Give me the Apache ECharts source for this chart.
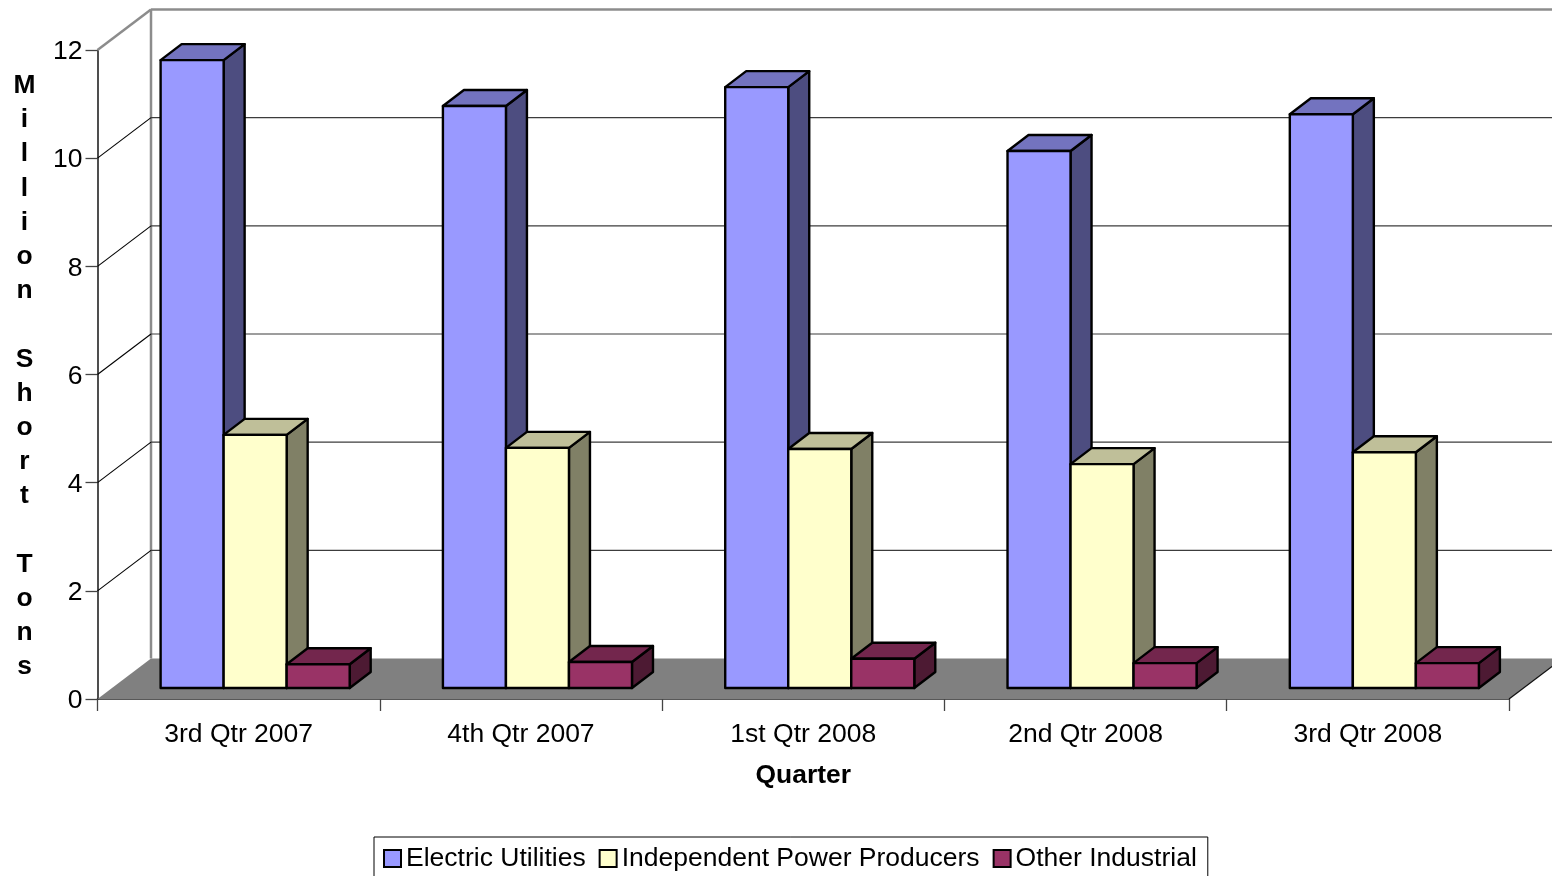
<!DOCTYPE html>
<html>
<head>
<meta charset="utf-8">
<style>html,body{margin:0;padding:0;background:#fff}#c{width:1552px;height:876px}</style>
<script src="https://cdn.jsdelivr.net/npm/echarts@6/dist/echarts.min.js"></script>
</head>
<body>
<div id="c"></div>
<script>
const categories = ['3rd Qtr 2007','4th Qtr 2007','1st Qtr 2008','2nd Qtr 2008','3rd Qtr 2008'];
const electricUtilities = [11.61,10.76,11.11,9.93,10.61];
const independentPower = [4.68,4.44,4.42,4.14,4.36];
const otherIndustrial = [0.44,0.48,0.54,0.46,0.46];
const yTicks = [0,2,4,6,8,10,12];
const yTitle = 'Million Short Tons';

const FONT = '"Liberation Sans", Arial, sans-serif';
const WALL_DX = 53.5, WALL_DY = 40.5;    // depth of the box
const LIFT_DX = 16.5, LIFT_DY = 11;      // bars stand this far into the floor
const SIDE_DX = 21, SIDE_DY = 16;        // depth of one bar
const BAR_RATIO = 63 / 282.2;

function bar3d(slot, front, side, top) {
  return function (params, api) {
    const i = api.value(0), v = api.value(1);
    const base = api.coord([i, 0]), head = api.coord([i, v]);
    const w = api.size([1, 0])[0] * BAR_RATIO;
    const x0 = base[0] + LIFT_DX + (slot - 1.5) * w, x1 = x0 + w;
    const y0 = base[1] - LIFT_DY, y1 = head[1] - LIFT_DY;
    const ln = { stroke: '#000', lineWidth: 2.4, lineJoin: 'round' };
    const poly = (points, fill) => ({ type: 'polygon', shape: { points }, style: Object.assign({ fill }, ln) });
    return { type: 'group', children: [
      poly([[x1,y0],[x1+SIDE_DX,y0-SIDE_DY],[x1+SIDE_DX,y1-SIDE_DY],[x1,y1]], side),
      poly([[x0,y1],[x0+SIDE_DX,y1-SIDE_DY],[x1+SIDE_DX,y1-SIDE_DY],[x1,y1]], top),
      poly([[x0,y0],[x1,y0],[x1,y1],[x0,y1]], front)
    ]};
  };
}

function wall(params, api) {
  const v = api.value(0);
  const c = api.coord([0, v]);
  const bw = api.size([1, 0])[0];
  const left = c[0] - bw / 2, right = left + bw * categories.length;
  const y = c[1], kids = [];
  const seg = (x1, y1, x2, y2, stroke, lineWidth) => ({ type: 'line', shape: { x1, y1, x2, y2 }, style: { stroke, lineWidth } });
  if (v === 0) {
    kids.push({ type: 'polygon', shape: { points: [[left,y],[left+WALL_DX,y-WALL_DY],[right+WALL_DX,y-WALL_DY],[right,y]] }, style: { fill: '#808080' } });
    kids.push(seg(right, y, right + WALL_DX, y - WALL_DY, '#111', 1.3));
    kids.push(seg(left + WALL_DX, y - WALL_DY, left + WALL_DX, api.coord([0, yTicks[yTicks.length - 1]])[1] - WALL_DY, '#8c8c8c', 2.5));
  } else if (v === yTicks[yTicks.length - 1]) {
    kids.push(seg(left, y, left + WALL_DX, y - WALL_DY, '#8c8c8c', 2.5));
    kids.push(seg(left + WALL_DX, y - WALL_DY, right + WALL_DX, y - WALL_DY, '#8c8c8c', 2.5));
  } else {
    kids.push(seg(left, y, left + WALL_DX, y - WALL_DY, '#000', 1.1));
    kids.push(seg(left + WALL_DX, y - WALL_DY, right + WALL_DX, y - WALL_DY, '#3c3c3c', 1.1));
  }
  return { type: 'group', children: kids };
}

const pairs = arr => arr.map((v, i) => [i, v]);
const barSeries = (name, values, slot, front, side, top) => ({
  type: 'custom', name, data: pairs(values), encode: { x: 0, y: 1 },
  renderItem: bar3d(slot, front, side, top),
  itemStyle: { color: front }, clip: false, z: 3
});

const stackedTitle = '{s| }\n' + yTitle.split('').map(ch => '{a|' + ch + '}').join('\n');

const chart = echarts.init(document.getElementById('c'), null, { renderer: 'canvas' });
chart.setOption({
  animation: false,
  backgroundColor: '#fff',
  textStyle: { fontFamily: FONT },
  grid: { left: 97.5, right: 43, top: 50, bottom: 177, containLabel: false },
  xAxis: {
    type: 'category', data: categories, name: 'Quarter', nameLocation: 'middle', nameGap: 64,
    nameTextStyle: { fontFamily: FONT, fontSize: 26.4, fontWeight: 'bold', color: '#000' },
    axisLine: { lineStyle: { color: '#222', width: 1.6 } },
    axisTick: { show: true, length: 12, lineStyle: { color: '#444', width: 1.3 } },
    axisLabel: { fontFamily: FONT, fontSize: 26.5, color: '#000', margin: 22 },
    splitLine: { show: false }
  },
  yAxis: {
    type: 'value', min: 0, max: 12, interval: 2,
    name: stackedTitle,
    nameLocation: 'middle', nameRotate: 0, nameGap: 73,
    nameTextStyle: {
      align: 'center',
      rich: {
        a: { fontFamily: FONT, fontSize: 26.4, fontWeight: 'bold', color: '#000', lineHeight: 34.2, align: 'center' },
        s: { fontSize: 1, lineHeight: 4 }
      }
    },
    axisLine: { show: true, lineStyle: { color: '#222', width: 1.6 } },
    axisTick: { show: true, length: 12, lineStyle: { color: '#444', width: 1.3 } },
    axisLabel: { fontFamily: FONT, fontSize: 26.5, color: '#000', margin: 15, verticalAlign: 'top', lineHeight: 4 },
    splitLine: { show: false }
  },
  legend: {
    left: 374, top: 837, orient: 'horizontal',
    data: ['Electric Utilities','Independent Power Producers','Other Industrial'],
    icon: 'rect', itemWidth: 17, itemHeight: 17, itemGap: 13,
    padding: [8, 11, 5, 9],
    borderColor: '#000', borderWidth: 1,
    itemStyle: { borderColor: '#000', borderWidth: 2 },
    textStyle: { fontFamily: FONT, fontSize: 26.5, color: '#000' }
  },
  series: [
    { type: 'custom', name: 'wall', data: yTicks.map(v => [v]), encode: { y: 0 }, renderItem: wall, clip: false, silent: true, z: 1 },
    barSeries('Electric Utilities', electricUtilities, 0, '#9999FF', '#4D4D80', '#7373BF'),
    barSeries('Independent Power Producers', independentPower, 1, '#FFFFCC', '#808066', '#BFBF99'),
    barSeries('Other Industrial', otherIndustrial, 2, '#993366', '#4D1A33', '#73264D')
  ]
});
</script>
</body>
</html>
